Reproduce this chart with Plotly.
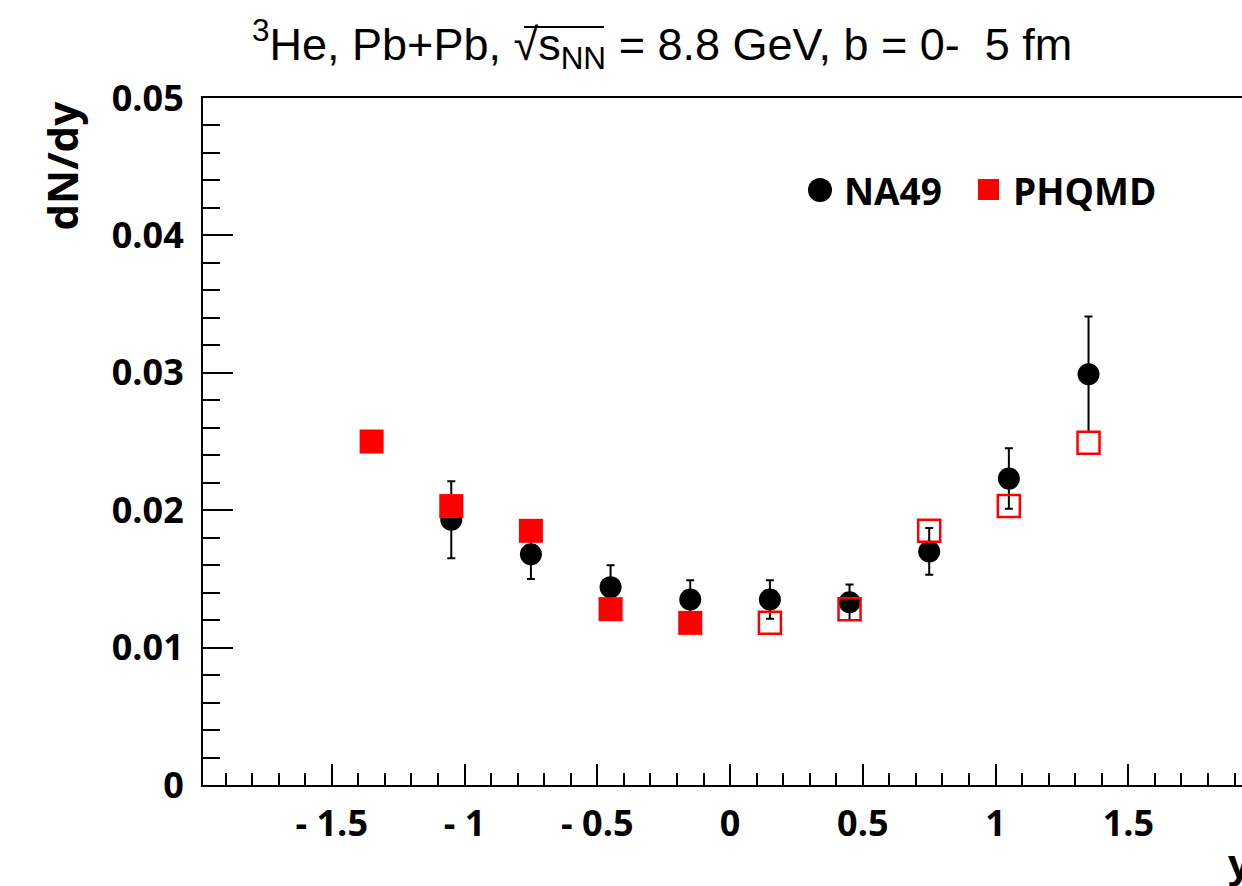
import plotly.graph_objects as go

# ---------------- data ----------------
na49_x = [-1.05, -0.75, -0.45, -0.15, 0.15, 0.45, 0.75, 1.05, 1.35]
na49_y = [0.0193, 0.0168, 0.0144, 0.0135, 0.0135, 0.0133, 0.0170, 0.0223, 0.0299]
na49_err = [0.0028, 0.0018, 0.0016, 0.0014, 0.0014, 0.0013, 0.0017, 0.0022, 0.0042]

phqmd_x = [-1.35, -1.05, -0.75, -0.45, -0.15]
phqmd_y = [0.0250, 0.0203, 0.0185, 0.0128, 0.0118]
phqmd_refl_x = [0.15, 0.45, 0.75, 1.05, 1.35]
phqmd_refl_y = [0.0118, 0.0128, 0.0185, 0.0203, 0.0249]

x_tickvals = [-1.5, -1.0, -0.5, 0.0, 0.5, 1.0, 1.5]
x_ticktext = ["- 1.5", "- 1", "- 0.5", "0", "0.5", "1", "1.5"]
y_tickvals = [0, 0.01, 0.02, 0.03, 0.04, 0.05]
y_ticktext = ["0", "0.01", "0.02", "0.03", "0.04", "0.05"]

W, H = 1242, 886
L, R, T, B = 203, 0, 98, 101
PW, PH = W - L - R, H - T - B


def px(xp):
    return (xp - L) / PW


def py(yp):
    return (H - B - yp) / PH


BOLD = "Open Sans"
fig = go.Figure()

fig.add_trace(go.Scatter(
    x=na49_x, y=na49_y, mode="markers", name="NA49",
    marker=dict(symbol="circle", size=22, color="black", line=dict(width=0)),
    error_y=dict(type="data", array=na49_err, visible=True, color="black",
                 thickness=2, width=4),
    showlegend=False,
))
fig.add_trace(go.Scatter(
    x=phqmd_x, y=phqmd_y, mode="markers", name="PHQMD",
    marker=dict(symbol="square", size=24, color="#ff0000", line=dict(width=0)),
    showlegend=False,
))
fig.add_trace(go.Scatter(
    x=phqmd_refl_x, y=phqmd_refl_y, mode="markers", name="PHQMD (reflected)",
    marker=dict(symbol="square-open", size=22, color="#ff0000",
                line=dict(width=2.5, color="#ff0000")),
    showlegend=False,
))

axis_common = dict(
    showgrid=False, zeroline=False, showline=True, linecolor="black",
    linewidth=2, ticks="inside", tickcolor="black", tickwidth=2,
    tickfont=dict(family=BOLD, size=36, color="black", weight="bold"),
)

fig.update_xaxes(
    range=[-1.985, 1.928], tickmode="array", tickvals=x_tickvals,
    ticktext=x_ticktext, ticklen=21, mirror=True, ticklabelstandoff=6,
    minor=dict(tickmode="linear", tick0=0, dtick=0.1, ticks="inside",
               ticklen=12, tickwidth=2, tickcolor="black"),
    **axis_common,
)
fig.update_yaxes(
    range=[0, 0.05], tickmode="array", tickvals=y_tickvals,
    ticktext=y_ticktext, ticklen=30, mirror=False, ticklabelstandoff=10,
    minor=dict(tickmode="linear", tick0=0, dtick=0.002, ticks="inside",
               ticklen=17, tickwidth=2, tickcolor="black"),
    **axis_common,
)

title_font = "Liberation Sans Narrow, Liberation Sans, Arial"
annotations = [
    dict(text="<sup>3</sup>He, Pb+Pb, \u221As<sub>NN</sub> = 8.8 GeV, b = 0-  5 fm",
         x=px(662), y=py(44), xref="paper", yref="paper", showarrow=False,
         xanchor="center", yanchor="middle",
         font=dict(family=title_font, size=45, color="black")),
    dict(text="dN/dy", x=px(61), y=py(100), xref="paper", yref="paper",
         showarrow=False, textangle=-90, xanchor="center", yanchor="top",
         font=dict(family=BOLD, size=42, color="black", weight="bold")),
    dict(text="y", x=px(1226), y=py(862), xref="paper", yref="paper",
         showarrow=False, xanchor="left", yanchor="middle",
         font=dict(family=BOLD, size=40, color="black", weight="bold")),
    dict(text="NA49", x=px(842), y=py(190), xref="paper", yref="paper",
         showarrow=False, xanchor="left", yanchor="middle",
         font=dict(family=BOLD, size=37, color="black", weight="bold")),
    dict(text="PHQMD", x=px(1011), y=py(190), xref="paper", yref="paper",
         showarrow=False, xanchor="left", yanchor="middle",
         font=dict(family=BOLD, size=37, color="black", weight="bold")),
]

shapes = [
    dict(type="circle", xref="paper", yref="paper",
         x0=px(808), x1=px(832), y0=py(202), y1=py(178),
         fillcolor="black", line=dict(width=0)),
    dict(type="rect", xref="paper", yref="paper",
         x0=px(978), x1=px(999), y0=py(200), y1=py(179),
         fillcolor="#ff0000", line=dict(width=0)),
    # overline of the square root in the title
    dict(type="line", xref="paper", yref="paper",
         x0=px(524), x1=px(604), y0=py(27), y1=py(27),
         line=dict(color="black", width=2)),
]

fig.update_layout(
    width=W, height=H,
    margin=dict(l=L, r=R, t=T, b=B, pad=0),
    paper_bgcolor="white", plot_bgcolor="white",
    showlegend=False,
    annotations=annotations, shapes=shapes,
)

fig.write_html("out.html")
